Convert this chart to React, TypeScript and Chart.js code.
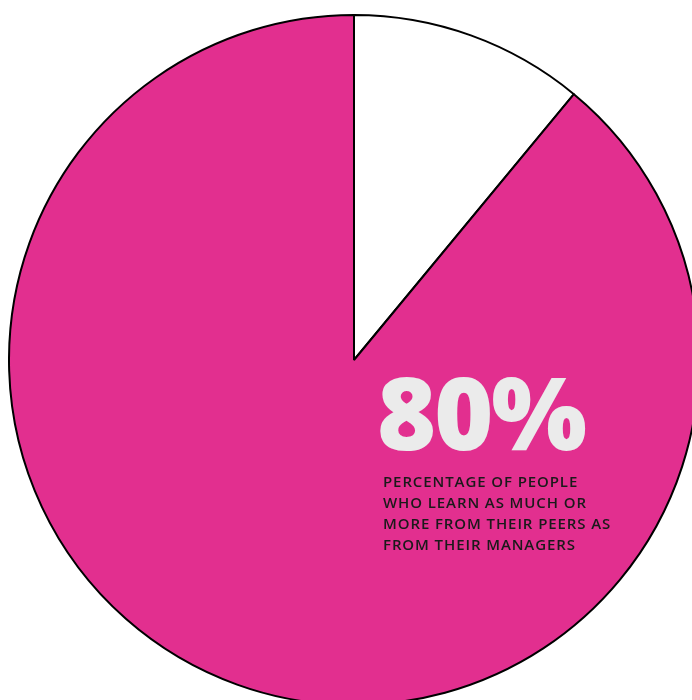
import React, { useEffect, useRef } from "react";
import { Chart, registerables } from "chart.js";

Chart.register(...registerables);

const categories = ["Other", "Learn as much or more from peers"];
const values = [11, 89];
const colors = ["#ffffff", "#e22f8f"];
const headline = "80%";
const captionLines = [
  "PERCENTAGE OF PEOPLE",
  "WHO LEARN AS MUCH OR",
  "MORE FROM THEIR PEERS AS",
  "FROM THEIR MANAGERS",
];

export default function App() {
  const ref = useRef<HTMLCanvasElement>(null);
  useEffect(() => {
    if (!ref.current) return;
    const chart = new Chart(ref.current, {
      type: "pie",
      data: {
        labels: categories,
        datasets: [
          {
            data: values,
            backgroundColor: colors,
            borderColor: "#000000",
            borderWidth: 2,
          },
        ],
      },
      options: {
        responsive: false,
        animation: false,
        layout: { padding: 0 },
        plugins: { legend: { display: false }, tooltip: { enabled: false } },
      },
    });
    return () => chart.destroy();
  }, []);

  return (
    <div
      style={{
        position: "fixed",
        left: 0,
        top: 0,
        width: 692,
        height: 700,
        overflow: "hidden",
        background: "#ffffff",
      }}
    >
      <canvas
        ref={ref}
        width={692}
        height={692}
        style={{ position: "absolute", left: 8, top: 14, width: 692, height: 692 }}
      />
      <div
        style={{
          position: "absolute",
          left: 377,
          top: 349,
          fontFamily: "'Open Sans', sans-serif",
          fontWeight: 800,
          fontSize: 101,
          color: "#ebebeb",
          lineHeight: "124px",
          letterSpacing: -2,
        }}
      >
        {headline}
      </div>
      <div
        style={{
          position: "absolute",
          left: 383,
          top: 471,
          fontFamily: "'Open Sans', sans-serif",
          fontWeight: 600,
          fontSize: 15,
          color: "#1a1a1a",
          lineHeight: "21px",
          letterSpacing: 0.9,
          whiteSpace: "nowrap",
        }}
      >
        {captionLines.map((l, i) => (
          <div key={i}>{l}</div>
        ))}
      </div>
    </div>
  );
}
